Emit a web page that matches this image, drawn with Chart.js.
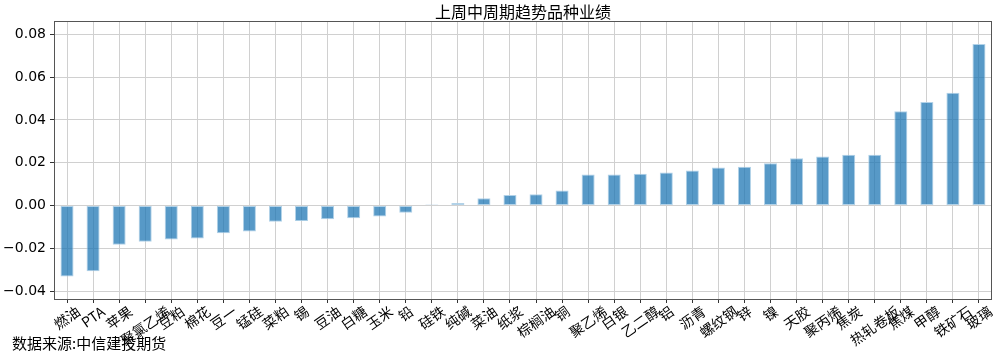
<!DOCTYPE html>
<html>
<head>
<meta charset="utf-8">
<script src="https://cdn.jsdelivr.net/npm/chart.js@4"></script>
<style>
  html, body { margin: 0; padding: 0; background: #fff; }
  #wrap { width: 1003px; height: 354px; position: relative; }
</style>
</head>
<body>
<div id="wrap"><canvas id="chart"></canvas></div>
<script>
const chartTitle = '上周中周期趋势品种业绩';
const sourceText = '数据来源:中信建投期货';
const categories = ['燃油', 'PTA', '苹果', '聚氯乙烯', '豆粕', '棉花', '豆一', '锰硅', '菜粕', '锡',
  '豆油', '白糖', '玉米', '铅', '硅铁', '纯碱', '菜油', '纸浆', '棕榈油', '铜',
  '聚乙烯', '白银', '乙二醇', '铝', '沥青', '螺纹钢', '锌', '镍', '天胶', '聚丙烯',
  '焦炭', '热轧卷板', '焦煤', '甲醇', '铁矿石', '玻璃'];
const values = [-0.0332, -0.0307, -0.0183, -0.0170, -0.0159, -0.0154, -0.0130, -0.0122, -0.0076, -0.0073,
  -0.0064, -0.0060, -0.0051, -0.0034, 0.0003, 0.0012, 0.0034, 0.0049, 0.0053, 0.0070,
  0.0145, 0.0145, 0.0148, 0.0154, 0.0164, 0.0178, 0.0181, 0.0197, 0.0221, 0.0229,
  0.0237, 0.0237, 0.0440, 0.0483, 0.0527, 0.0755];
const yMin = -0.0437;
const yMax = 0.0862;
const yStep = 0.02;

const FONT = '"Noto Sans CJK SC", "Noto Sans", sans-serif';
const labelAngle = 35;

// title, x labels (rotated, centred on tick like matplotlib), frame and source note
const extrasPlugin = {
  id: 'extras',
  afterDraw(chart) {
    const { ctx, chartArea } = chart;
    const xs = chart.scales.x;
    ctx.save();
    // frame
    ctx.strokeStyle = '#555';
    ctx.lineWidth = 1;
    ctx.strokeRect(chartArea.left + 0.5, chartArea.top + 0.5,
      chartArea.right - chartArea.left - 1, chartArea.bottom - chartArea.top);
    // title
    ctx.fillStyle = '#000';
    ctx.font = '16px ' + FONT;
    ctx.textAlign = 'center';
    ctx.textBaseline = 'middle';
    ctx.fillText(chartTitle, (chartArea.left + chartArea.right) / 2, 12);
    // category labels
    ctx.font = '14px ' + FONT;
    const a = labelAngle * Math.PI / 180;
    categories.forEach((c, i) => {
      const w = ctx.measureText(c).width;
      const h = 14;
      const bh = w * Math.sin(a) + h * Math.cos(a);
      const cx = xs.getPixelForValue(i);
      const cy = chartArea.bottom + 5 + bh / 2;
      ctx.save();
      ctx.translate(cx, cy);
      ctx.rotate(-a);
      ctx.fillText(c, 0, 0);
      ctx.restore();
    });
    // source
    ctx.font = '15px ' + FONT;
    ctx.textAlign = 'left';
    ctx.fillText(sourceText, 12, 343);
    ctx.restore();
  }
};

new Chart(document.getElementById('chart'), {
  type: 'bar',
  data: {
    labels: categories,
    datasets: [{
      data: values,
      backgroundColor: 'rgba(31, 119, 180, 0.75)',
      borderColor: 'rgba(170, 205, 230, 0.9)',
      borderWidth: 1,
      borderSkipped: false,
      minBarLength: 1,
      barPercentage: 0.5,
      categoryPercentage: 1.0
    }]
  },
  options: {
    responsive: true,
    maintainAspectRatio: false,
    animation: false,
    layout: { padding: { top: 21, right: 11, left: 0, bottom: 0 } },
    plugins: {
      legend: { display: false },
      tooltip: { enabled: false }
    },
    scales: {
      x: {
        offset: true,
        grid: { offset: false, color: '#d0d0d0', tickColor: '#333', tickLength: 4, lineWidth: 1 },
        border: { display: false },
        ticks: { display: false },
        afterFit(scale) { scale.height = 55; }
      },
      y: {
        min: yMin,
        max: yMax,
        grid: { color: '#d0d0d0', tickColor: '#333', tickLength: 4, lineWidth: 1 },
        border: { display: false },
        ticks: {
          stepSize: yStep,
          includeBounds: false,
          color: '#000',
          padding: 4,
          font: { family: '"DejaVu Sans", sans-serif', size: 14 },
          callback: v => (Math.abs(v) < 1e-9 ? 0 : v).toFixed(2).replace('-', '−')
        },
        afterFit(scale) { scale.width = 54; }
      }
    }
  },
  plugins: [extrasPlugin]
});
</script>
</body>
</html>
